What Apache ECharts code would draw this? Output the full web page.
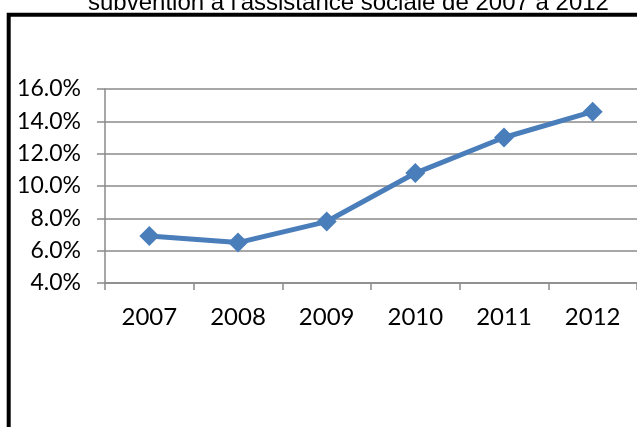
<!DOCTYPE html>
<html>
<head>
<meta charset="utf-8">
<script src="https://cdn.jsdelivr.net/npm/echarts@6/dist/echarts.min.js"></script>
<style>
  html, body { margin: 0; padding: 0; background: #fff; }
  #chart { width: 637px; height: 427px; }
</style>
</head>
<body>
<div id="chart"></div>
<script>
// données
const years = ["2007", "2008", "2009", "2010", "2011", "2012"];
const rates = [6.9, 6.5, 7.8, 10.8, 13.0, 14.6]; // en %
const yTicks = { min: 4, max: 16, step: 2 };
const titleText = "subvention à l'assistance sociale de 2007 à 2012";

const chart = echarts.init(document.getElementById("chart"));
const grey = "#8a8a8a";

const option = {
  backgroundColor: "#fff",
  animation: false,
  title: {
    text: titleText,
    left: 88,
    top: -9,
    padding: 0,
    textStyle: {
      fontFamily: "Liberation Sans",
      fontSize: 24,
      fontWeight: "normal",
      color: "#000",
    },
  },
  graphic: [
    {
      type: "rect",
      z: -1,
      shape: { x: 8.7, y: 14.7, width: 700, height: 500 },
      style: { fill: "none", stroke: "#000", lineWidth: 4 },
    },
  ],
  grid: { left: 105, top: 89, width: 538, height: 194 },
  xAxis: {
    type: "category", // axe des années
    data: years,
    boundaryGap: true,
    axisLine: { lineStyle: { color: grey, width: 1.5 } },
    axisTick: { show: true, interval: 0, length: 7, lineStyle: { color: grey, width: 1.5 } },
    axisLabel: {
      margin: 22,
      color: "#000",
      fontFamily: "Lato",
      fontSize: 24,
    },
  },
  yAxis: {
    type: "value",
    min: yTicks.min,
    max: yTicks.max,
    interval: yTicks.step,
    axisLine: { show: true, lineStyle: { color: grey, width: 1.5 } },
    axisTick: { show: true, length: 8, lineStyle: { color: grey, width: 1.5 } },
    splitLine: { lineStyle: { color: grey, width: 1.5 } },
    axisLabel: {
      margin: 24,
      color: "#000",
      fontFamily: "Lato",
      fontSize: 23,
      formatter: (v) => v.toFixed(1) + "%",
    },
  },
  series: [
    {
      type: "line",
      data: rates,
      symbol: "diamond",
      symbolSize: 20,
      lineStyle: { color: "#4a7ebb", width: 5 },
      itemStyle: { color: "#4a7ebb" },
    },
  ],
};

chart.setOption(option);
</script>
</body>
</html>
